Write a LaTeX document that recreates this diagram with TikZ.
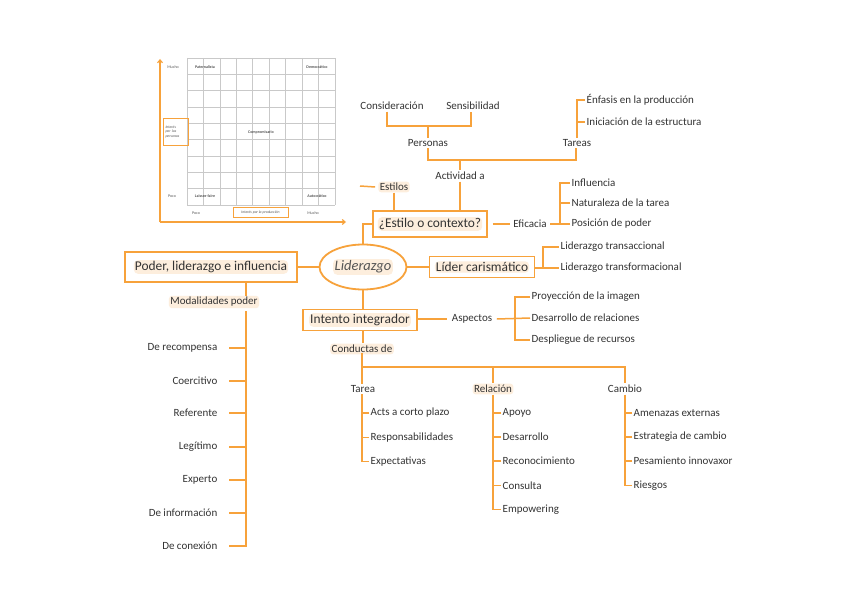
\documentclass[tikz,border=0pt]{standalone}
\usepackage{fontspec}
\setmainfont{Carlito}
\usetikzlibrary{arrows.meta,shapes.geometric}
\definecolor{org}{HTML}{F7A23B}
\definecolor{txt}{HTML}{333333}
\definecolor{hlc}{HTML}{FDEEDD}
\definecolor{gridc}{HTML}{C9C9C9}
\definecolor{gtxt}{HTML}{555555}
\begin{document}
\begin{tikzpicture}[x=1pt,y=-1pt,
  ln/.style={draw=org,line width=1.5pt},
  lbl/.style={text=txt,font=\fontsize{11}{12}\selectfont,inner sep=1.5pt},
  hl/.style={lbl,fill=hlc,rounded corners=3pt},
  frame/.style={draw=org,line width=1.8pt,inner sep=0pt},
  boxtxt/.style={text=txt,font=\fontsize{13.4}{14}\selectfont,fill=hlc,rounded corners=4pt,inner sep=1pt},
  tiny/.style={text=gtxt,font=\fontsize{4}{4.5}\selectfont\bfseries,inner sep=0.5pt},
  tinyn/.style={text=gtxt,font=\fontsize{4}{4.5}\selectfont,inner sep=0.5pt},
  axbox/.style={draw=org,line width=1pt,text=gtxt,font=\fontsize{3.8}{4.4}\selectfont\itshape,inner sep=1pt,align=left}
]
\useasboundingbox (0,0) rectangle (848,599);
\fill[white] (0,0) rectangle (848,599);

% ---------- grid picture ----------
\foreach \i in {0,...,9}{
  \draw[gridc,line width=0.6pt] ({187+\i*16.44},58) -- ({187+\i*16.44},205);
  \draw[gridc,line width=0.6pt] (187,{58+\i*16.33}) -- (335,{58+\i*16.33});
}
\coordinate (ax0) at (160,222);
\coordinate (axup) at (160,59);
\coordinate (axrt) at (346,222);
\draw[org,line width=1.1pt,-{Straight Barb[length=3pt,width=5pt]}] (ax0) -- (axup);
\draw[org,line width=1.1pt,-{Straight Barb[length=3pt,width=5pt]}] (ax0) -- (axrt);
\node[tinyn] (mucho1) at (173,67) {Mucho};
\node[tinyn] (poco1) at (172,196) {Poco};
\node[tiny] (pat) at (205,67) {Paternalista};
\node[tiny] (dem) at (317,67) {Democrático};
\node[tiny] (comp) at (261,132) {Compromisario};
\node[tiny] (lais) at (205,196) {Laissez-faire};
\node[tiny] (auto) at (317,196) {Autocrático};
\node[tinyn] (poco2) at (196,213) {Poco};
\node[tinyn] (mucho2) at (313,213) {Mucho};
\node[axbox,minimum width=55pt,minimum height=10pt] (ipp) at (260.5,212) {Interés por la producción};
\node[axbox,minimum width=25pt,minimum height=26pt,text width=20pt] (ipe) at (175.5,132) {Interés\\por las\\personas};

% ---------- top branches ----------
\node[lbl] (cons) at (392,106) {Consideración};
\node[lbl] (sens) at (473,106) {Sensibilidad};
\node[lbl] (pers) at (428,143) {Personas};
\node[lbl] (tar) at (577,143) {Tareas};
\node[lbl] (act) at (460,176) {Actividad a};
\node[lbl,anchor=west] (enf) at (585,100) {Énfasis en la producción};
\node[lbl,anchor=west] (inic) at (585,122) {Iniciación de la estructura};

\coordinate (c1) at (387,126);
\coordinate (c2) at (471,126);
\coordinate (c3) at (428,126);
\draw[ln] (cons.south -| c1) -- (c1) -- (c2) -- (sens.south -| c2);
\draw[ln] (c3) -- (pers.north);

\coordinate (p1) at (428,160);
\coordinate (p2) at (576,160);
\coordinate (p3) at (460,160);
\draw[ln] (pers.south) -- (p1) -- (p2) -- (tar.south -| p2);
\draw[ln] (p3) -- (act.north);

\coordinate (t1) at (577,100);
\coordinate (t2) at (577,122);
\draw[ln] (tar.north -| t1) -- (t1) -- (enf.west);
\draw[ln] (t2) -- (inic.west);

% ---------- estilo o contexto ----------
\node[frame,minimum width=114pt,minimum height=26pt] (estilo) at (430,224) {};
\node[boxtxt] (estilot) at (estilo) {¿Estilo o contexto?};
\node[hl] (estilos) at (394,187) {Estilos};
\coordinate (estd) at (360,186);
\draw[ln] (estilos.west) ++(-3,0) -- (estd);
\draw[ln] (estilos.south) -- (estilos.south |- estilo.north);
\draw[ln] (act.south) -- (act.south |- estilo.north);

\node[lbl] (efic) at (530,224) {Eficacia};
\draw[ln] (estilo.east) ++(5,0) -- ([xshift=-2pt]efic.west);
\node[lbl,anchor=west] (infl) at (570,183) {Influencia};
\node[lbl,anchor=west] (nat) at (570,203) {Naturaleza de la tarea};
\node[lbl,anchor=west] (pos) at (570,224) {Posición de poder};
\coordinate (e1) at (560,183);
\coordinate (e2) at (560,224);
\coordinate (e3) at (560,203);
\draw[ln] ([xshift=2pt]efic.east) -- (e2);
\draw[ln] (pos.west) -- (e2) -- (e1) -- (infl.west);
\draw[ln] (e3) -- (nat.west);

% ---------- center ----------
\node[draw=org,line width=1.8pt,ellipse,minimum width=87pt,minimum height=45pt,inner sep=0pt] (lid) at (363,267) {};
\node[text=gtxt,font=\fontsize{14.5}{16}\selectfont\itshape,fill=hlc,rounded corners=4pt,inner sep=1.5pt] (lidt) at (lid) {Liderazgo};
\draw[ln] (estilo.west) -| (lid.north);

\node[frame,minimum width=172pt,minimum height=30pt] (poder) at (211,267) {};
\node[boxtxt] (podert) at (poder) {Poder, liderazgo e influencia};
\draw[ln] (lid.west) -- (poder.east);

\node[frame,minimum width=105pt,minimum height=21pt] (lider) at (482,267) {};
\node[boxtxt] (lidert) at (lider) {Líder carismático};
\draw[ln] (lid.east) -- (lider.west);
\node[lbl,anchor=west] (ltra) at (559,247) {Liderazgo transaccional};
\node[lbl,anchor=west] (ltrf) at (559,268) {Liderazgo transformacional};
\coordinate (l1) at (543,247);
\coordinate (l2) at (543,268);
\draw[ln] (lider.east |- l2) -- (ltrf.west);
\draw[ln] (l2) -- (l1) -- (ltra.west);

\node[frame,minimum width=114pt,minimum height=21pt] (intento) at (360,320) {};
\node[boxtxt] (intentot) at (intento) {Intento integrador};
\draw[ln] (lid.south) -- (lid.south |- intento.north);

\node[lbl] (asp) at (472,319) {Aspectos};
\draw[ln] (intento.east |- asp) -- ([xshift=-3pt]asp.west);
\node[lbl,anchor=west] (proy) at (530,297) {Proyección de la imagen};
\node[lbl,anchor=west] (desr) at (530,318) {Desarrollo de relaciones};
\node[lbl,anchor=west] (desp) at (530,340) {Despliegue de recursos};
\coordinate (a1) at (515,297);
\coordinate (a2) at (515,340);
\coordinate (a3) at (515,318);
\draw[ln] ([xshift=3pt]asp.east) -- (desr.west);
\draw[ln] (proy.west) -- (a1) -- (a2) -- (desp.west);

% ---------- conductas ----------
\node[hl] (cond) at (362,349) {Conductas de};
\draw[ln] (intento.south -| lid.south) -- (cond.north -| lid.south);
\node[lbl] (tarea) at (363,389) {Tarea};
\node[hl] (rel) at (493,389) {Relación};
\node[lbl] (camb) at (625,389) {Cambio};
\coordinate (k1) at (362,367);
\coordinate (k2) at (493,367);
\coordinate (k3) at (625,367);
\draw[ln] ([yshift=2pt]cond.south -| k1) -- (tarea.north -| k1);
\draw[ln] (k1) -- (k3) -- (camb.north -| k3);
\draw[ln] (k2) -- (rel.north -| k2);

\foreach \n/\t [count=\i] in {ta1/Acts a corto plazo,ta2/Responsabilidades,ta3/Expectativas}{
  \node[lbl,anchor=west] (\n) at (369,{413+(\i-1)*24.3}) {\t};
}
\draw[ln] (tarea.south -| k1) |- (ta3.west);
\draw[ln] (ta1.west) -- (ta1.west -| k1);
\draw[ln] (ta2.west) -- (ta2.west -| k1);

\foreach \n/\t [count=\i] in {r1/Apoyo,r2/Desarrollo,r3/Reconocimiento,r4/Consulta,r5/Empowering}{
  \node[lbl,anchor=west] (\n) at (501,{413+(\i-1)*24.1}) {\t};
}
\draw[ln] (rel.south -| k2) |- (r5.west);
\foreach \n in {r1,r2,r3,r4}{\draw[ln] (\n.west) -- (\n.west -| k2);}

\foreach \n/\t [count=\i] in {c1a/Amenazas externas,c2a/Estrategia de cambio,c3a/Pesamiento innovaxor,c4a/Riesgos}{
  \node[lbl,anchor=west] (\n) at (632,{413+(\i-1)*24.1}) {\t};
}
\draw[ln] (camb.south -| k3) |- (c4a.west);
\foreach \n in {c1a,c2a,c3a}{\draw[ln] (\n.west) -- (\n.west -| k3);}

% ---------- modalidades ----------
\node[hl] (mod) at (214,302) {Modalidades poder};
\coordinate (m0) at (246,282);
\draw[ln] (poder.south -| m0) -- (mod.north -| m0);
\foreach \n/\t/\y in {d1/De recompensa/348,d2/Coercitivo/381,d3/Referente/413,d4/Legítimo/447,d5/Experto/480,d6/De información/513,d7/De conexión/546}{
  \node[lbl,anchor=east] (\n) at (219,\y) {\t};
}
\draw[ln] (mod.south -| m0) ++(0,3) |- ([xshift=10pt]d7.east);
\foreach \n in {d1,d2,d3,d4,d5,d6}{\draw[ln] ([xshift=10pt]\n.east) -- (\n.east -| m0);}
\end{tikzpicture}
\end{document}
